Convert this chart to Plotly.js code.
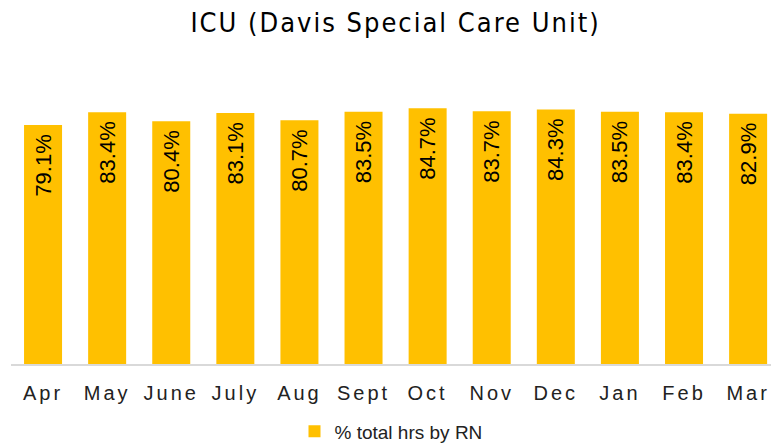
<!DOCTYPE html>
<html>
<head>
<meta charset="utf-8">
<script src="https://cdn.plot.ly/plotly-3.0.1.min.js"></script>
<style>
html,body{margin:0;padding:0;background:#fff;}
#chart .gtitle{letter-spacing:2px;}
#chart .xtick text{letter-spacing:3px;}
</style>
</head>
<body>
<div id="chart" style="width:771px;height:447px;"></div>
<script>
const months = ["Apr","May","June","July","Aug","Sept","Oct","Nov","Dec","Jan","Feb","Mar"];
const rnShare = [0.791,0.834,0.804,0.831,0.807,0.835,0.847,0.837,0.843,0.835,0.834,0.829];
const seriesName = "% total hrs by RN";

const trace = {
  type: "bar",
  x: months,
  y: rnShare,
  name: seriesName,
  marker: {color: "#FFC000"},
  texttemplate: "%{y:.1%}\u00a0",
  textposition: "inside",
  insidetextanchor: "end",
  textangle: -90,
  constraintext: "none",
  textfont: {family: "Liberation Sans, Arial, sans-serif", size: 22, color: "#000"},
  hoverinfo: "skip",
  showlegend: true
};

const layout = {
  width: 771, height: 447,
  margin: {l: 11, r: 0, t: 62, b: 83, autoexpand: false},
  paper_bgcolor: "#fff", plot_bgcolor: "#fff",
  bargap: 0.407,
  title: {
    text: "ICU (Davis Special Care Unit)",
    x: 0.513, xanchor: "center",
    y: 0.95, yanchor: "middle",
    font: {family: "Liberation Sans Narrow, Arial Narrow, DejaVu Sans Condensed, sans-serif", size: 27, color: "#000"}
  },
  xaxis: {
    type: "category",
    range: [-0.5, 11.357],
    showline: true, linecolor: "#D9D9D9", linewidth: 1.5,
    ticks: "", showgrid: false, zeroline: false,
    ticklabelstandoff: 10,
    tickfont: {family: "Liberation Sans, Arial, sans-serif", size: 20, color: "#222"},
    fixedrange: true
  },
  yaxis: {
    range: [0, 1],
    visible: false, showgrid: false, zeroline: false,
    fixedrange: true
  },
  showlegend: true,
  legend: {
    orientation: "h",
    x: 0.5, xanchor: "center",
    y: -0.16, yanchor: "top",
    font: {family: "Liberation Sans, Arial, sans-serif", size: 19, color: "#222"},
    bgcolor: "rgba(0,0,0,0)"
  }
};

Plotly.newPlot("chart", [trace], layout, {displayModeBar: false, staticPlot: true});
</script>
</body>
</html>
